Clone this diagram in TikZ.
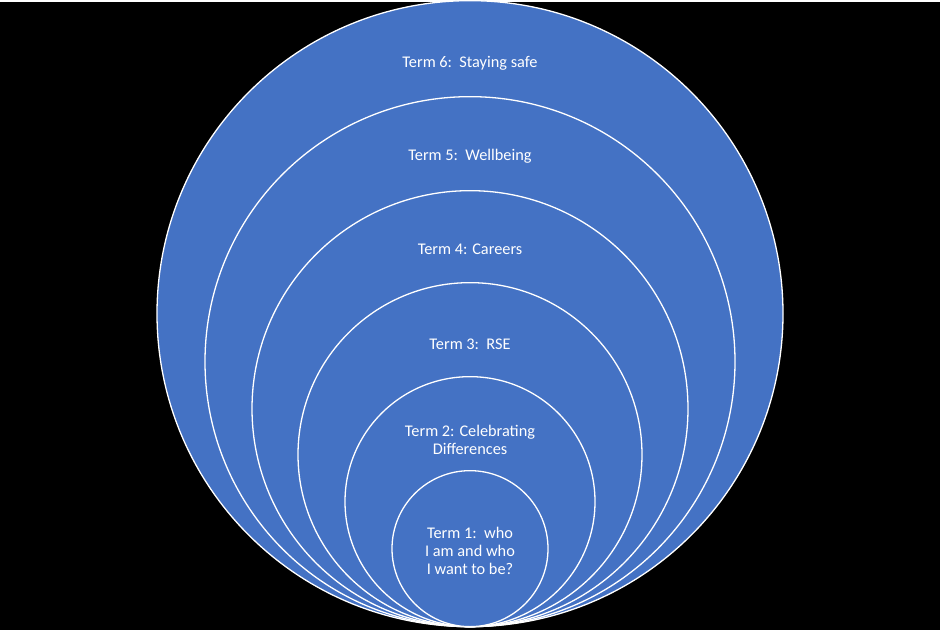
\documentclass[tikz,border=0pt]{standalone}
\usepackage{fontspec}
\setmainfont{Carlito}
\definecolor{blu}{HTML}{4472C4}
\begin{document}
\begin{tikzpicture}[x=1pt,y=-1pt,
  ring/.style={circle,draw=white,line width=1.3pt,fill=blu,inner sep=0pt},
  lbl/.style={text=white,font=\fontsize{16.3}{18}\selectfont,align=center}]
\fill[black] (0,0) rectangle (940,628);
\foreach \r/\n in {313/c6,265/c5,218/c4,172/c3,125/c2,78/c1}{
  \node[ring,minimum size=2*\r] (\n) at (470,625-\r) {};
}
\node[lbl] (t6) at (470,62) {Term 6:\ \ Staying safe};
\node[lbl] (t5) at (470,155) {Term 5:\ \ Wellbeing};
\node[lbl] (t4) at (470,248) {Term 4: Careers};
\node[lbl] (t3) at (470,343) {Term 3:\ \ RSE};
\node[lbl] (t2) at (470,438) {Term 2: Celebrating\\Differences};
\node[lbl] (t1) at (470,549) {Term 1:\ \ who\\I am and who\\I want to be?};
\end{tikzpicture}
\end{document}
